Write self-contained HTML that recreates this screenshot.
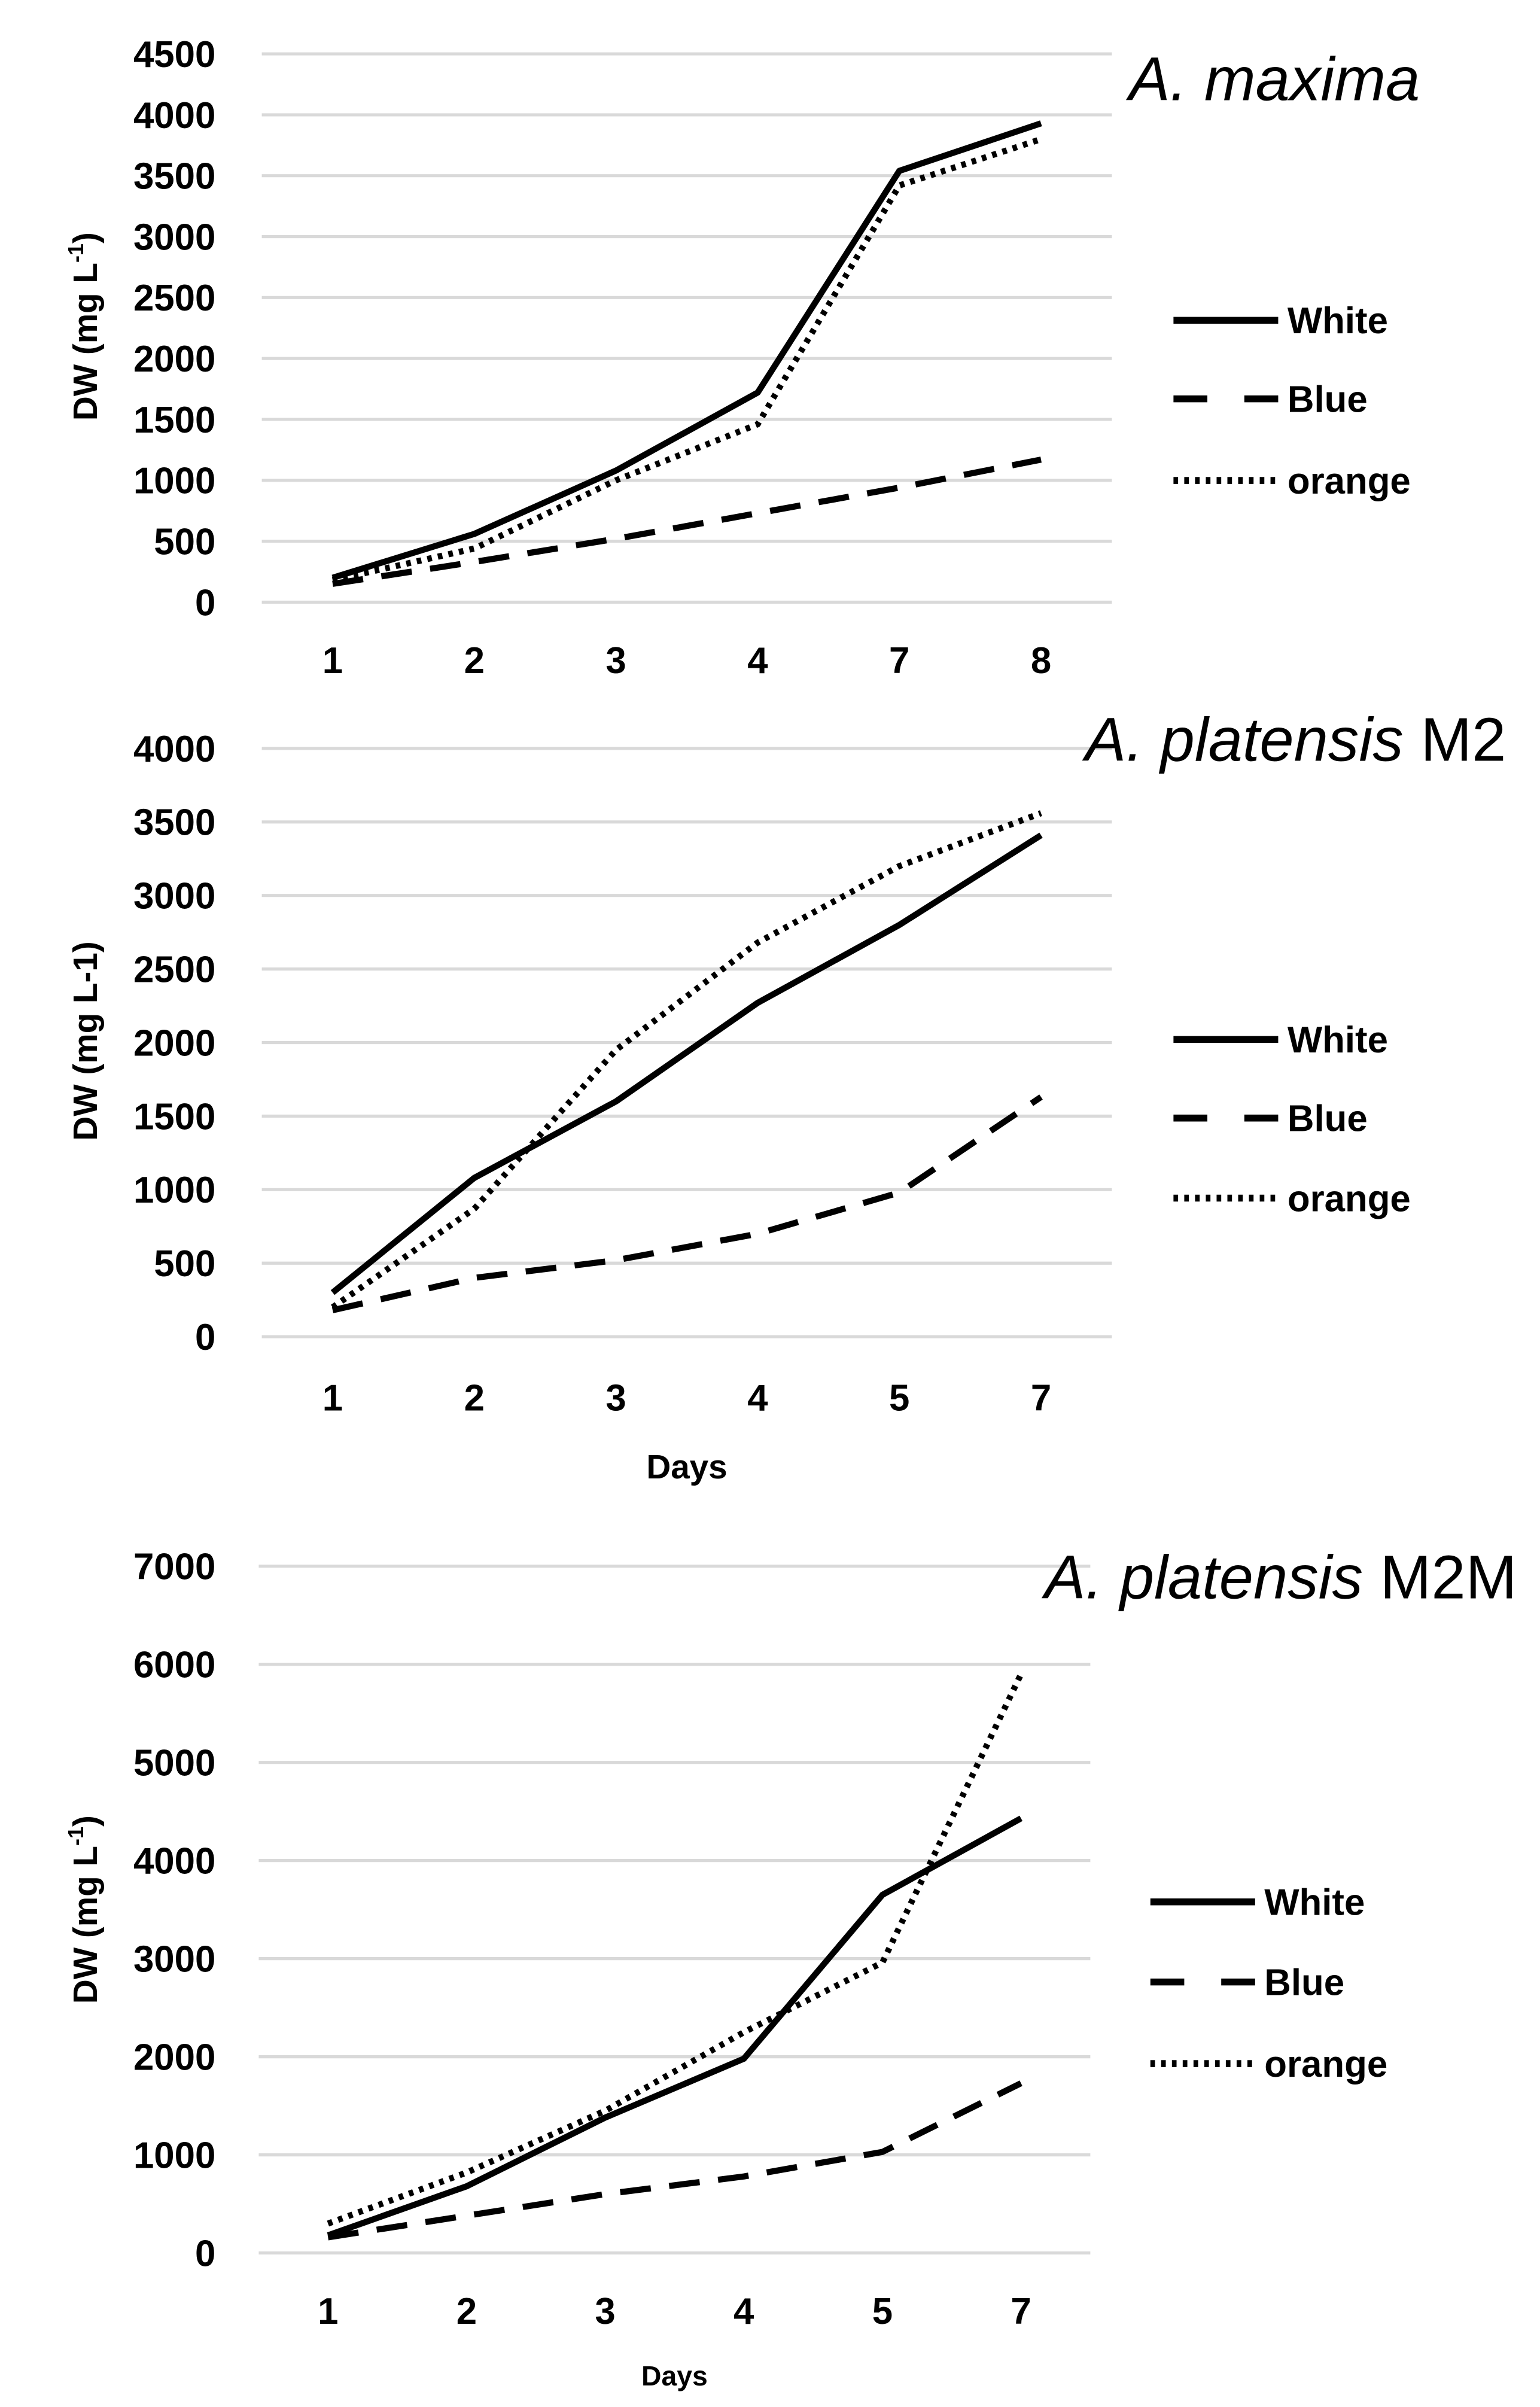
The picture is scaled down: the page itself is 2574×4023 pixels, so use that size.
<!DOCTYPE html>
<html><head><meta charset="utf-8"><style>
html,body{margin:0;padding:0;background:#fff}
svg{display:block}
text{font-family:"Liberation Sans",sans-serif;fill:#000}
</style></head><body>
<svg id="fig" width="2574" height="4023" viewBox="0 0 1000 1563" preserveAspectRatio="none" xmlns="http://www.w3.org/2000/svg"></svg>
<script>
const days1 = ["1","2","3","4","7","8"];
const white1 = [200, 560, 1080, 1720, 3540, 3930];
const blue1 = [150, 330, 520, 730, 940, 1170];
const orange1 = [180, 440, 1000, 1460, 3420, 3800];
const ticks1 = [0,500,1000,1500,2000,2500,3000,3500,4000,4500];

const days2 = ["1","2","3","4","5","7"];
const white2 = [300, 1080, 1600, 2270, 2800, 3410];
const blue2 = [180, 400, 520, 700, 980, 1630];
const orange2 = [200, 870, 1950, 2680, 3200, 3560];
const ticks2 = [0,500,1000,1500,2000,2500,3000,3500,4000];

const days3 = ["1","2","3","4","5","7"];
const white3 = [180, 680, 1380, 1980, 3650, 4430];
const blue3 = [160, 380, 600, 780, 1030, 1730];
const orange3 = [300, 820, 1450, 2250, 2960, 5900];
const ticks3 = [0,1000,2000,3000,4000,5000,6000,7000];

const NS = "http://www.w3.org/2000/svg";
const svg = document.getElementById('fig');
function mk(tag, attrs, parent){const e=document.createElementNS(NS,tag);for(const k in attrs)e.setAttribute(k,attrs[k]);(parent||svg).appendChild(e);return e;}

function chart(cfg){
  const g = mk('g',{});
  
  
  const ymax = cfg.ticks[cfg.ticks.length-1];
  const y = v => cfg.y0 - (v/ymax)*(cfg.y0-cfg.yTop);
  const n = cfg.cats.length;
  const step = (cfg.right-cfg.left)/n;
  const x = i => cfg.left + step*(i+0.5);
  cfg.ticks.forEach(t=>{
    const l = mk('line',{x1:cfg.left,x2:cfg.right,y1:y(t),y2:y(t),stroke:'#d9d9d9','stroke-width':2},g);
    
    
    const tx = mk('text',{x:140,y:y(t)+8.5,'text-anchor':'end','font-size':24,'font-weight':'bold'},g);
    
    
    tx.textContent = t;
  });
  cfg.cats.forEach((c,i)=>{
    const tx = mk('text',{x:x(i),y:cfg.xlabY,'text-anchor':'middle','font-size':24,'font-weight':'bold'},g);
    
    
    tx.textContent = c;
  });
  const styles = [['white',cfg.white,''],['blue',cfg.blue,'20 12'],['orange',cfg.orange,'3 4']];
  styles.forEach(([nm,vals,dash])=>{
    const p = mk('polyline',{points:vals.map((v,i)=>x(i)+','+y(v)).join(' '),fill:'none',stroke:'#000','stroke-width':4,'stroke-dasharray':dash,'stroke-linejoin':'round'},g);
    
    
  });
  const labels = ['White','Blue','orange'];
  const legDash = ['','22 24','3 4'];
  labels.forEach((lb,i)=>{
    const ly = cfg.legY[i];
    const l = mk('line',{x1:cfg.legX,x2:cfg.legX+68,y1:ly,y2:ly,stroke:'#000','stroke-width':4.5,'stroke-dasharray':legDash[i]},g);
    
    
    const t = mk('text',{x:cfg.legX+74,y:ly+8.5,'font-size':24,'font-weight':'bold'},g);
    
    
    t.textContent = lb;
  });
  const yl = mk('text',{x:0,y:0,'text-anchor':'middle','font-size':22,'font-weight':'bold',transform:`translate(63 ${cfg.ylabC}) rotate(-90)`},g);
  
  
  yl.innerHTML = cfg.ylab;
  const tt = mk('text',{x:cfg.titleX,y:cfg.titleY,'text-anchor':'end','font-size':40},g);
  
  
  tt.innerHTML = cfg.title;
  if(cfg.days){
    const d = mk('text',{x:cfg.days[0],y:cfg.days[1],'text-anchor':'middle','font-size':cfg.days[2],'font-weight':'bold'},g);
    
    
    d.textContent = 'Days';
  }
}

chart({name:'chart-a-maxima',cats:days1,white:white1,blue:blue1,orange:orange1,ticks:ticks1,
  left:170,right:722,y0:391,yTop:35,xlabY:437,legX:762,legY:[208,259,312],ylabC:212,
  ylab:'DW (mg L<tspan font-size="14" dy="-9">-1</tspan><tspan dy="9">)</tspan>',
  title:'<tspan font-style="italic">A. maxima</tspan>',titleX:922,titleY:65});
chart({name:'chart-a-platensis-m2',cats:days2,white:white2,blue:blue2,orange:orange2,ticks:ticks2,
  left:170,right:722,y0:868,yTop:486,xlabY:916,legX:762,legY:[675,726,778],ylabC:676,
  ylab:'DW (mg L-1)',
  title:'<tspan font-style="italic">A. platensis</tspan> M2',titleX:978,titleY:494,days:[446,960,22]});
chart({name:'chart-a-platensis-m2m',cats:days3,white:white3,blue:blue3,orange:orange3,ticks:ticks3,
  left:168,right:708,y0:1463,yTop:1017,xlabY:1509,legX:747,legY:[1235,1287,1340],ylabC:1240,
  ylab:'DW (mg L<tspan font-size="14" dy="-9">-1</tspan><tspan dy="9">)</tspan>',
  title:'<tspan font-style="italic">A. platensis</tspan> M2M',titleX:985,titleY:1038,days:[438,1549,18]});
</script>
</body></html>
